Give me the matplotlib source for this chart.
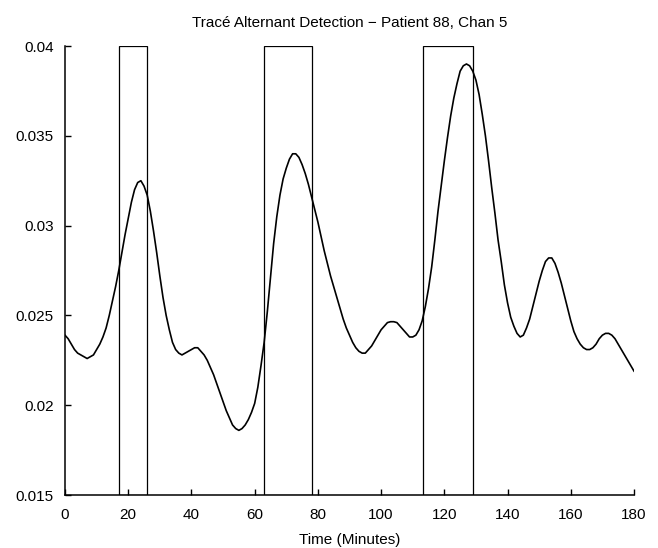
import matplotlib
matplotlib.use("Agg")
import matplotlib.pyplot as plt
from matplotlib.patches import Rectangle

plt.rcParams['font.family'] = ['Liberation Sans', 'DejaVu Sans']

# values, one per minute
minutes = list(range(0, 181))
amplitude = [
    0.0239, 0.0237, 0.0234, 0.0231, 0.0229, 0.0228, 0.0227, 0.0226, 0.0227, 0.0228,
    0.0231, 0.0234, 0.0238, 0.0243, 0.0250, 0.0258, 0.0266, 0.0275, 0.0285, 0.0295,
    0.0304, 0.0313, 0.0320, 0.0324, 0.0325, 0.0322, 0.0317, 0.0308, 0.0297, 0.0285,
    0.0272, 0.0260, 0.0250, 0.0242, 0.0235, 0.0231, 0.0229, 0.0228, 0.0229, 0.0230,
    0.0231, 0.0232, 0.0232, 0.0230, 0.0228, 0.0225, 0.0221, 0.0217, 0.0212, 0.0207,
    0.0202, 0.0197, 0.0193, 0.0189, 0.0187, 0.0186, 0.0187, 0.0189, 0.0192, 0.0196,
    0.0201, 0.0210, 0.0222, 0.0235, 0.0252, 0.0271, 0.0290, 0.0305, 0.0317, 0.0326,
    0.0332, 0.0337, 0.0340, 0.0340, 0.0338, 0.0334, 0.0329, 0.0323, 0.0316, 0.0309,
    0.0302, 0.0294, 0.0286, 0.0279, 0.0272, 0.0266, 0.0260, 0.0254, 0.0248, 0.0243,
    0.0239, 0.0235, 0.0232, 0.0230, 0.0229, 0.0229, 0.0231, 0.0233, 0.0236, 0.0239,
    0.0242, 0.0244, 0.0246, 0.02465, 0.02465, 0.0246, 0.0244, 0.0242, 0.0240, 0.0238,
    0.0238, 0.0239, 0.0242, 0.0247, 0.0255, 0.0265, 0.0277, 0.0292, 0.0308, 0.0322,
    0.0336, 0.0349, 0.0361, 0.0371, 0.0379, 0.0386, 0.0389, 0.0390, 0.0389, 0.0386,
    0.0381, 0.0373, 0.0362, 0.0350, 0.0336, 0.0321, 0.0307, 0.0292, 0.0280, 0.0267,
    0.0257, 0.0249, 0.0244, 0.0240, 0.0238, 0.0239, 0.0243, 0.0248, 0.0255, 0.0262,
    0.0269, 0.0275, 0.0280, 0.0282, 0.0282, 0.0279, 0.0274, 0.0268, 0.0261, 0.0254,
    0.0247, 0.0241, 0.0237, 0.0234, 0.0232, 0.0231, 0.0231, 0.0232, 0.0234, 0.0237,
    0.0239, 0.0240, 0.0240, 0.0239, 0.0237, 0.0234, 0.0231, 0.0228, 0.0225, 0.0222,
    0.0219,
]

# detected trace alternant windows (start, end) in minutes
win_start = [17.2, 63.0, 113.1]
win_end = [26.0, 78.2, 129.1]

x_ticks = list(range(0, 181, 20))
y_ticks = [0.015, 0.02, 0.025, 0.03, 0.035, 0.04]
y_labels = ["0.015", "0.02", "0.025", "0.03", "0.035", "0.04"]

fig = plt.figure(figsize=(6.58, 5.48), dpi=100)
ax = fig.add_axes([0.0988, 0.0967, 0.8647, 0.8193])

for s, e in zip(win_start, win_end):
    ax.add_patch(Rectangle((s, 0.015), e - s, 0.025, fill=False,
                           edgecolor="black", linewidth=0.9))

ax.plot(minutes, amplitude, color="black", linewidth=1.2)

ax.set_xlim(0, 180)
ax.set_ylim(0.015, 0.04)
ax.set_xticks(x_ticks)
ax.set_yticks(y_ticks)
ax.set_yticklabels(y_labels)
ax.spines["top"].set_visible(False)
ax.spines["right"].set_visible(False)
for sp in ("left", "bottom"):
    ax.spines[sp].set_linewidth(1.1)
ax.tick_params(direction="in", length=4, width=1, labelsize=11)
ax.tick_params(axis="x", pad=9)
ax.tick_params(axis="y", pad=8)

ax.set_title("Tracé Alternant Detection − Patient 88, Chan 5", fontsize=11, pad=14)
ax.set_xlabel("Time (Minutes)", fontsize=11, labelpad=8)

fig.savefig("out.png", dpi=100)
